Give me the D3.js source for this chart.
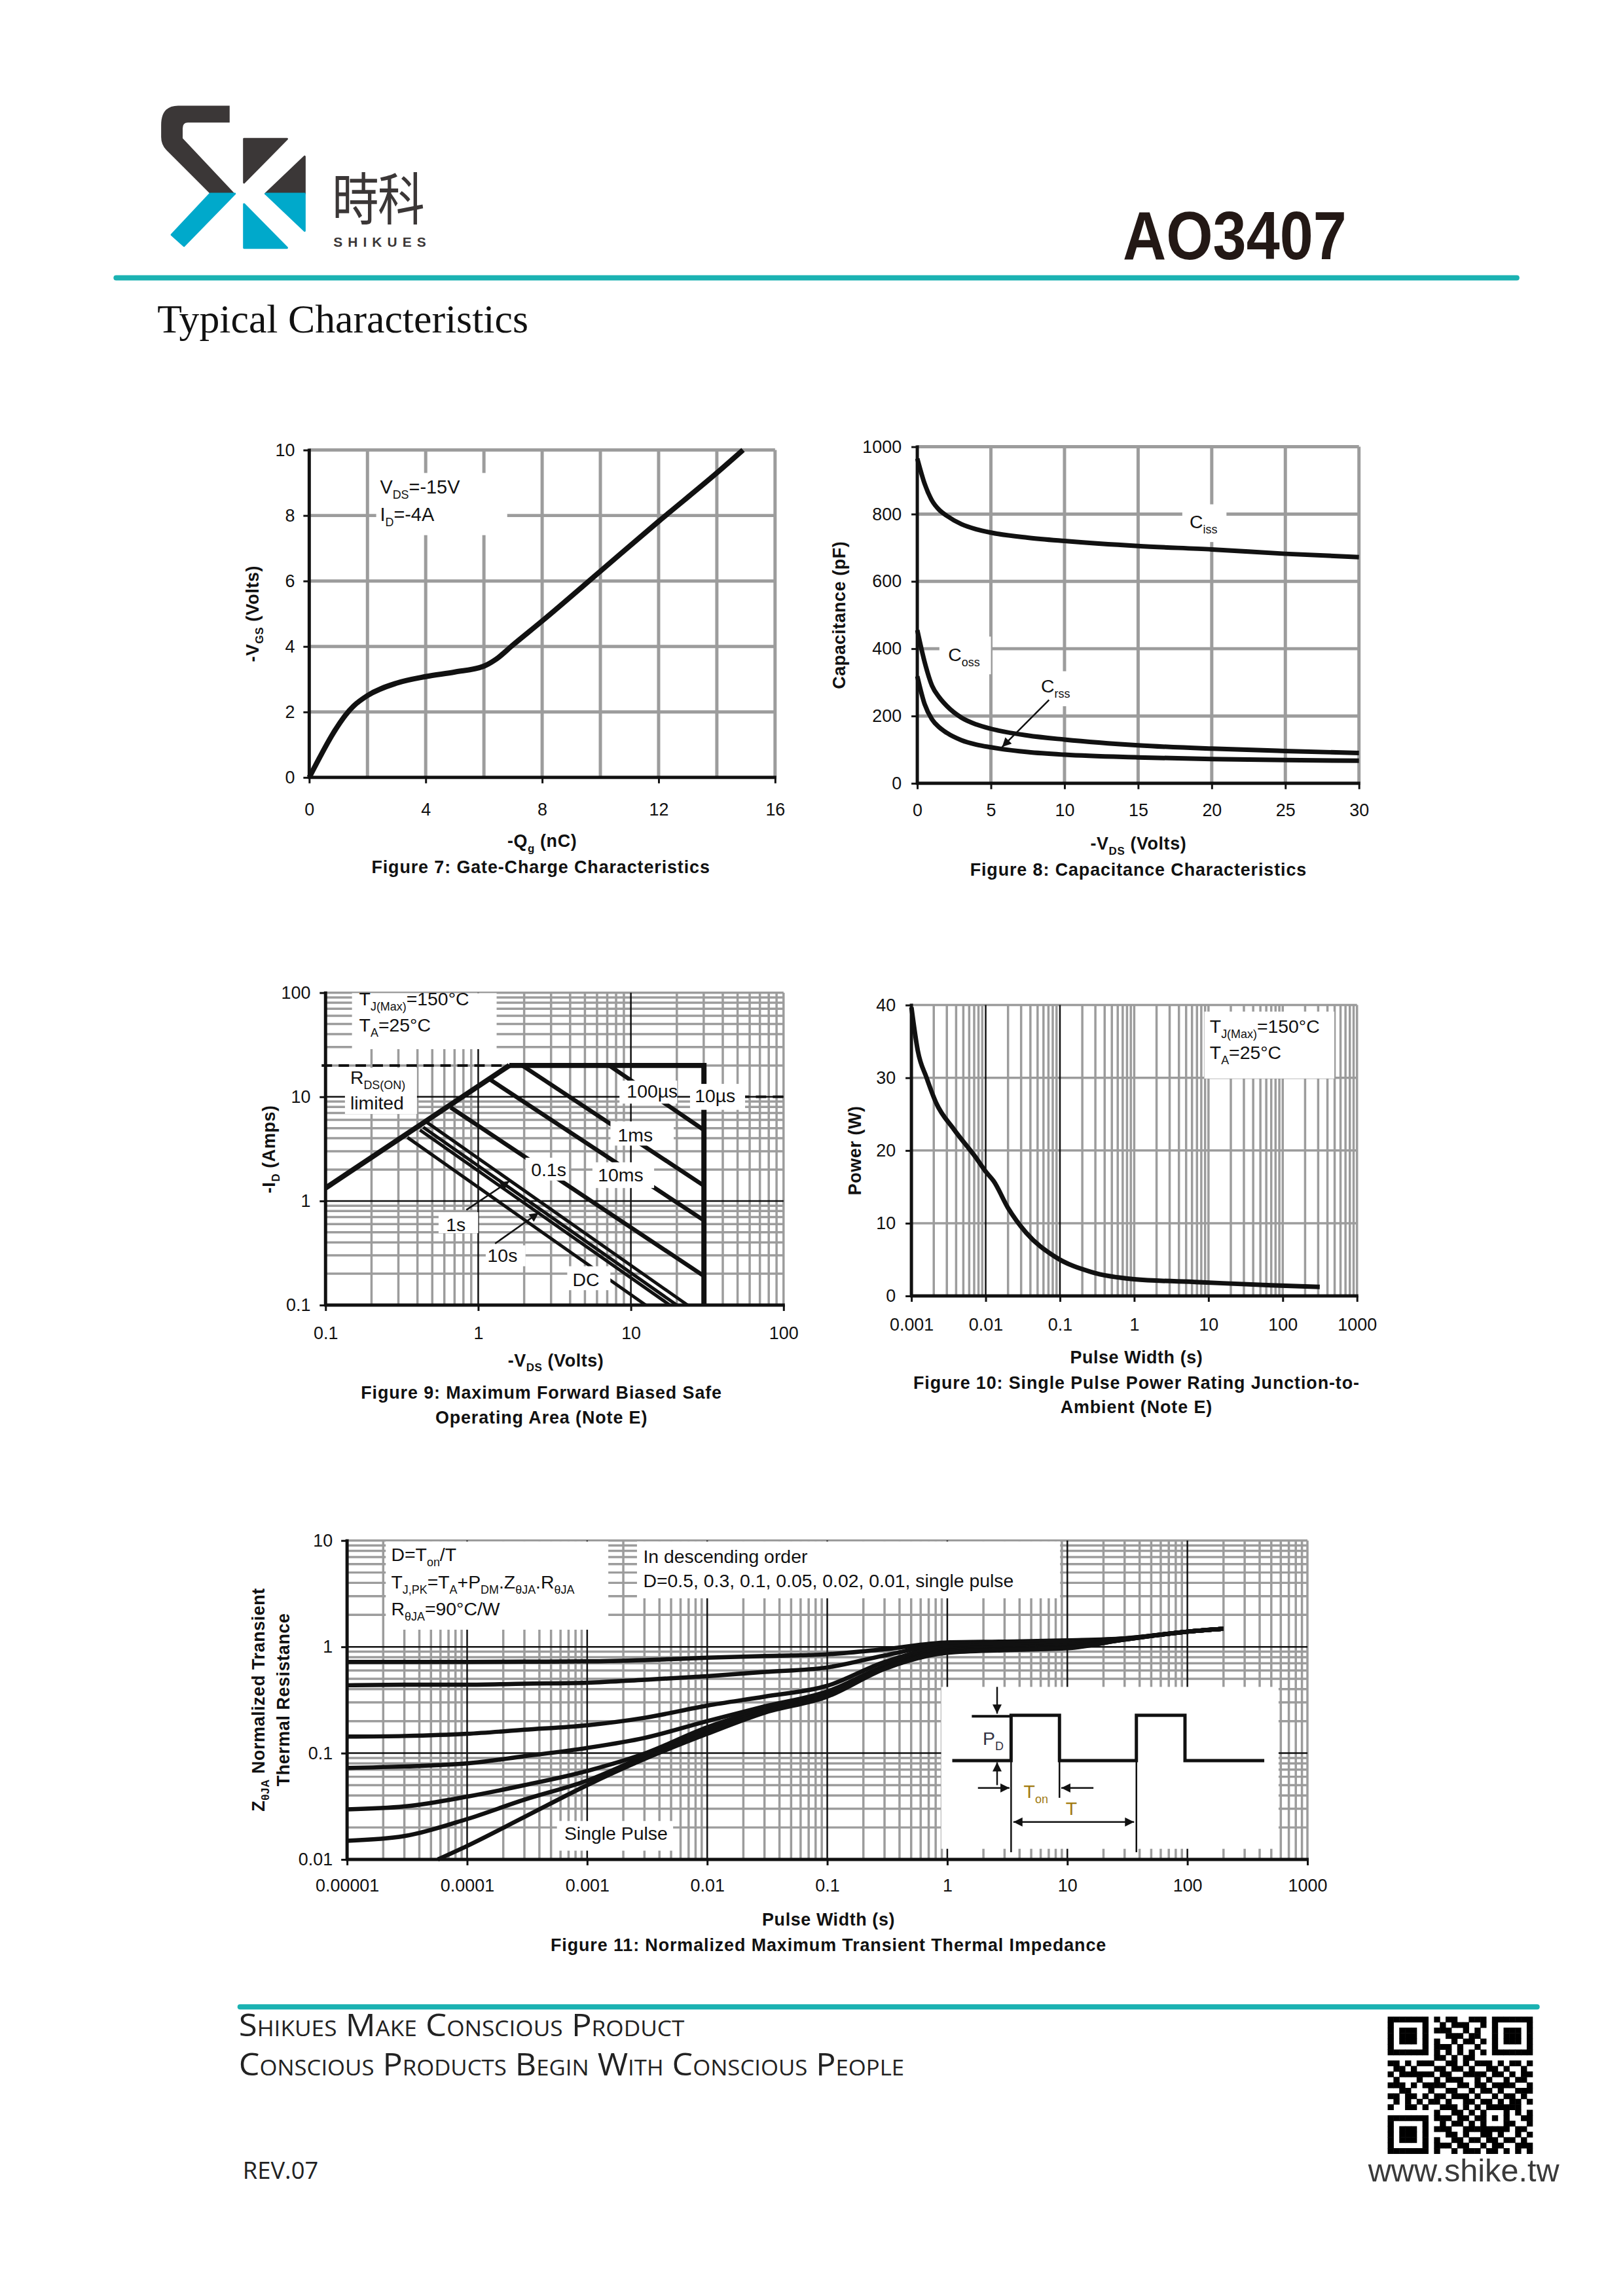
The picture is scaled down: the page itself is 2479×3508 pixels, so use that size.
<!DOCTYPE html>
<html>
<head>
<meta charset="utf-8">
<script src="https://cdn.jsdelivr.net/npm/d3@7"></script>
<style>
  body { margin: 0; background: #fff; }
</style>
</head>
<body>
<svg id="page" width="2479" height="3508"></svg>
<script>
// ---------- data ----------

// Figure 7: gate charge
const qgNC = [0, 1.52, 2.0, 3.0, 4.0, 5.0, 6.0, 6.4, 7.0, 8.0, 10.0, 12.0, 14.0, 14.9];
const vgsV = [0, 2.18, 2.5, 2.88, 3.08, 3.22, 3.4, 3.6, 4.05, 4.78, 6.3, 7.82, 9.3, 10];
const f7xTicks = [0, 4, 8, 12, 16];
const f7yTicks = [0, 2, 4, 6, 8, 10];

// Figure 8: capacitance
const capVds = [0, 0.5, 1, 1.5, 2, 3, 4, 5, 7.5, 10, 15, 20, 25, 30];
const ciss = [965, 890, 840, 812, 795, 770, 755, 745, 730, 720, 705, 695, 682, 672];
const coss = [455, 360, 290, 255, 230, 195, 175, 162, 142, 130, 113, 103, 96, 90];
const crss = [318, 235, 190, 166, 150, 128, 115, 107, 93, 85, 77, 72, 69, 67];
const f8xTicks = [0, 5, 10, 15, 20, 25, 30];
const f8yTicks = [0, 200, 400, 600, 800, 1000];

// Figure 9: safe operating area (V, A)
const rdsV = [0.1, 1.6];
const rdsI = [1.33, 20];
const envV = [1.6, 30.1, 30.1];
const envI = [20, 20, 0.1];
const soaName = ['100us', '1ms', '10ms', '0.1s', '1s', '', '10s', 'DC'];
const soaStartV = [7.2, 1.94, 1.2, 0.66, 0.46, 0.436, 0.415, 0.344];
const soaStartI = [20, 20, 14.6, 7.9, 5.7, 5.1, 4.8, 4.07];
const soaEndV = [30.1, 30.1, 30.1, 30.1, 23.5, 20, 18, 12.5];
const soaEndI = [4.8, 1.4, 0.65, 0.19, 0.1, 0.1, 0.1, 0.1];
const f9Ticks = [0.1, 1, 10, 100];
const f9TickLabels = ['0.1', '1', '10', '100'];

// Figure 10: single pulse power
const pwT = [0.001, 0.00122, 0.0016, 0.00214, 0.00374, 0.0073, 0.0102, 0.0128, 0.02, 0.035, 0.0855, 0.262, 1.0, 7.4, 70, 315];
const pwP = [39.7, 33.7, 30, 26.6, 22.9, 19.1, 17.0, 15.8, 12.1, 8.7, 5.4, 3.3, 2.3, 1.9, 1.46, 1.25];
const f10xTicks = [0.001, 0.01, 0.1, 1, 10, 100, 1000];
const f10xLabels = ['0.001', '0.01', '0.1', '1', '10', '100', '1000'];
const f10yTicks = [0, 10, 20, 30, 40];

// Figure 11: normalized transient thermal impedance
const zthT = [1e-5, 3e-5, 1e-4, 3e-4, 1e-3, 3e-3, 1e-2, 3e-2, 0.1, 0.3, 1, 3, 10, 30, 100, 200];
const zthD05 = [0.72, 0.72, 0.72, 0.725, 0.73, 0.75, 0.79, 0.82, 0.85, 0.95, 1.1, 1.12, 1.15, 1.2, 1.39, 1.48];
const zthD03 = [0.435, 0.44, 0.44, 0.45, 0.46, 0.49, 0.53, 0.58, 0.64, 0.83, 1.06, 1.09, 1.12, 1.2, 1.39, 1.48];
const zthD01 = [0.143, 0.145, 0.152, 0.166, 0.183, 0.215, 0.28, 0.34, 0.43, 0.72, 1.0, 1.04, 1.08, 1.19, 1.39, 1.48];
const zthD005 = [0.0726, 0.075, 0.08, 0.0935, 0.112, 0.139, 0.2, 0.275, 0.38, 0.66, 0.95, 0.99, 1.03, 1.18, 1.39, 1.48];
const zthD002 = [0.0296, 0.0315, 0.039, 0.05, 0.068, 0.099, 0.175, 0.26, 0.365, 0.64, 0.92, 0.96, 1.0, 1.17, 1.39, 1.48];
const zthD001 = [0.015, 0.0166, 0.024, 0.0365, 0.0552, 0.0935, 0.162, 0.25, 0.35, 0.63, 0.9, 0.94, 0.98, 1.17, 1.39, 1.48];
const zthSingleT = [5.7e-5, 1e-4, 3e-4, 1e-3, 3e-3, 1e-2, 3e-2, 0.1, 0.3, 1, 3, 10, 30, 100, 200];
const zthSingle = [0.01, 0.0134, 0.0251, 0.05, 0.088, 0.152, 0.24, 0.34, 0.62, 0.88, 0.93, 0.97, 1.17, 1.39, 1.48];
const f11xTicks = [1e-5, 1e-4, 1e-3, 1e-2, 0.1, 1, 10, 100, 1000];
const f11xLabels = ['0.00001', '0.0001', '0.001', '0.01', '0.1', '1', '10', '100', '1000'];
const f11yTicks = [0.01, 0.1, 1, 10];
const f11yLabels = ['0.01', '0.1', '1', '10'];

// ---------- page ----------
const SANS = '"Liberation Sans", Arial, Helvetica, sans-serif';
const INK = '#111';
const GRID = '#9c9c9c';
const TEAL = '#1bb2b2';
const NOTE = 28.5;

const root = d3.select('#page');
root.append('rect').attr('width', 2479).attr('height', 3508).attr('fill', '#fff');

const defs = root.append('defs');
defs.append('marker').attr('id', 'arr')
  .attr('viewBox', '0 0 10 10').attr('refX', 10).attr('refY', 5)
  .attr('markerWidth', 18).attr('markerHeight', 14)
  .attr('markerUnits', 'userSpaceOnUse').attr('orient', 'auto-start-reverse')
  .append('path').attr('d', 'M0,0L10,5L0,10z').attr('fill', INK);

// the whole sheet sits a hair smaller than the page
const svg = root.append('g').attr('transform', 'scale(0.9965)');

// text with _{sub} parts
function rich(t, str, fs) {
  const sub = Math.round(fs * 0.62), shift = fs * 0.28;
  let low = false;
  str.split(/(_\{[^}]*\})/).filter(s => s).forEach(p => {
    if (p.startsWith('_{')) {
      t.append('tspan').attr('font-size', sub).attr('dy', low ? 0 : shift).text(p.slice(2, -1));
      low = true;
    } else {
      t.append('tspan').attr('dy', low ? -shift : 0).text(p);
      low = false;
    }
  });
  return t;
}
function label(g, x, y, str, o = {}) {
  const fs = o.size || NOTE;
  const t = g.append('text').attr('x', x).attr('y', y)
    .attr('font-size', fs).attr('font-family', o.font || SANS)
    .attr('fill', o.fill || INK).attr('font-weight', o.weight || 'normal')
    .attr('text-anchor', o.anchor || 'start');
  if (o.spacing) t.attr('letter-spacing', o.spacing);
  if (o.rotate) t.attr('transform', `rotate(-90,${x},${y})`);
  return rich(t, str, fs);
}
const title = (g, x, y, s, rot) => label(g, x, y, s, { size: 27, weight: 'bold', anchor: 'middle', rotate: rot, spacing: 0.6 });
const caption = (g, x, y, s) => label(g, x, y, s, { size: 27, weight: 'bold', anchor: 'middle', spacing: 0.9 });

function logMinors(domain) {
  const out = [];
  const e0 = Math.round(Math.log10(domain[0])), e1 = Math.round(Math.log10(domain[1]));
  for (let e = e0; e < e1; e++) for (let m = 2; m <= 9; m++) out.push(m * Math.pow(10, e));
  return out;
}

function grid(g, x, y, xs, ys, color, w) {
  const [xa, xb] = x.range(), [yb, ya] = y.range();
  g.append('g').selectAll('line').data(xs).join('line')
    .attr('x1', d => x(d)).attr('x2', d => x(d)).attr('y1', ya).attr('y2', yb)
    .attr('stroke', color).attr('stroke-width', w);
  g.append('g').selectAll('line').data(ys).join('line')
    .attr('y1', d => y(d)).attr('y2', d => y(d)).attr('x1', xa).attr('x2', xb)
    .attr('stroke', color).attr('stroke-width', w);
}

function axes(g, x, y, xt, xl, yt, yl, padX, padY) {
  const [xa] = x.range(), [yb] = y.range();
  const ax = g.append('g').attr('transform', `translate(0,${yb})`)
    .call(d3.axisBottom(x).tickValues(xt).tickFormat((d, i) => xl[i]).tickSize(9).tickPadding(padX));
  const ay = g.append('g').attr('transform', `translate(${xa},0)`)
    .call(d3.axisLeft(y).tickValues(yt).tickFormat((d, i) => yl[i]).tickSize(9).tickPadding(padY));
  [ax, ay].forEach(a => {
    a.select('.domain').remove();
    a.selectAll('.tick line').attr('stroke', INK).attr('stroke-width', 3);
    a.selectAll('.tick text').attr('font-size', 27).attr('fill', INK).attr('font-family', SANS);
  });
  g.append('line').attr('x1', xa).attr('x2', xa).attr('y1', y.range()[1] - 2).attr('y2', yb + 2)
    .attr('stroke', INK).attr('stroke-width', 5);
  g.append('line').attr('x1', xa - 2).attr('x2', x.range()[1] + 2).attr('y1', yb).attr('y2', yb)
    .attr('stroke', INK).attr('stroke-width', 5);
}

function box(g, x, y, x0, x1, y0, y1) {
  g.append('rect').attr('x', x(x0)).attr('y', y(y1))
    .attr('width', x(x1) - x(x0)).attr('height', y(y0) - y(y1)).attr('fill', '#fff');
}

// ---------- header ----------
const logoDark = '#3b3737', logoBlue = '#00a9cb';
const head = svg.append('g');
head.append('path').attr('fill', logoDark)
  .attr('d', 'M273,162 L352,162 L352,188 L288,188 Q280,188 280,197 L280,212 L360,297 L322,297 L255,230 Q247,222 247,210 L247,192 Q247,162 273,162 Z');
const logoTris = [
  { c: logoBlue, p: [[322, 297], [360, 297], [282, 377], [263, 360]] },
  { c: logoDark, p: [[374, 213], [440, 213], [374, 280]] },
  { c: logoDark, p: [[467, 240], [467, 297], [407, 297]] },
  { c: logoBlue, p: [[407, 297], [467, 297], [467, 354]] },
  { c: logoBlue, p: [[374, 313], [440, 380], [374, 380]] }
];
head.selectAll('path.tri').data(logoTris).join('path').attr('class', 'tri')
  .attr('d', d => d3.line()(d.p) + 'Z').attr('fill', d => d.c)
  .attr('stroke', d => d.c).attr('stroke-width', 3).attr('stroke-linejoin', 'round');
head.append('text').attr('transform', 'translate(509,337) scale(1,1.2)')
  .attr('font-family', '"Noto Sans CJK TC", "Noto Sans CJK SC", sans-serif')
  .attr('font-size', 72).attr('fill', logoDark).attr('letter-spacing', -2).text('時科');
head.append('text').attr('x', 511).attr('y', 378).attr('font-family', SANS)
  .attr('font-weight', 'bold').attr('font-size', 21).attr('fill', logoDark)
  .attr('textLength', 142).attr('lengthAdjust', 'spacing').text('SHIKUES');
head.append('text').attr('x', 1721).attr('y', 397).attr('font-family', SANS)
  .attr('font-weight', 'bold').attr('font-size', 105).attr('fill', '#231815')
  .attr('textLength', 343).attr('lengthAdjust', 'spacingAndGlyphs').text('AO3407');
head.append('line').attr('x1', 178).attr('x2', 2325).attr('y1', 426).attr('y2', 426)
  .attr('stroke', TEAL).attr('stroke-width', 8).attr('stroke-linecap', 'round');
head.append('text').attr('x', 241).attr('y', 510)
  .attr('font-family', '"Liberation Serif", "Times New Roman", serif')
  .attr('font-size', 62).attr('fill', INK).text('Typical Characteristics');

const line = d3.line().curve(d3.curveMonotoneX);

// ---------- Figure 7 ----------
{
  const x = d3.scaleLinear().domain([0, 16]).range([474, 1188]);
  const y = d3.scaleLinear().domain([0, 10]).range([1192, 690]);
  const g = svg.append('g');
  grid(g, x, y, d3.range(2, 17, 2), d3.range(2, 11, 2), GRID, 5);
  box(g, x, y, 2.3, 6.8, 7.4, 9.3);
  g.append('path').attr('d', line(qgNC.map((q, i) => [x(q), y(vgsV[i])])))
    .attr('fill', 'none').attr('stroke', INK).attr('stroke-width', 8);
  axes(g, x, y, f7xTicks, f7xTicks.map(String), f7yTicks, f7yTicks.map(String), 30, 13);
  label(g, x(2.43), y(8.67), 'V_{DS}=-15V', { size: 29 });
  label(g, x(2.43), y(7.84), 'I_{D}=-4A', { size: 29 });
  title(g, 831, 1299, '-Q_{g} (nC)');
  title(g, 396, 941, '-V_{GS} (Volts)', true);
  caption(g, 829, 1339, 'Figure 7: Gate-Charge Characteristics');
}

// ---------- Figure 8 ----------
{
  const x = d3.scaleLinear().domain([0, 30]).range([1406, 2083]);
  const y = d3.scaleLinear().domain([0, 1000]).range([1201, 685]);
  const g = svg.append('g');
  grid(g, x, y, d3.range(5, 31, 5), d3.range(200, 1001, 200), GRID, 5);
  [ciss, coss, crss].forEach(s => {
    g.append('path').attr('d', line(capVds.map((v, i) => [x(v), y(s[i])])))
      .attr('fill', 'none').attr('stroke', INK).attr('stroke-width', 7);
  });
  box(g, x, y, 18.0, 21.0, 717, 829);
  box(g, x, y, 1.5, 5.0, 324, 436);
  box(g, x, y, 7.9, 10.2, 229, 333);
  g.append('line').attr('x1', x(8.95)).attr('y1', y(248)).attr('x2', x(5.76)).attr('y2', y(108))
    .attr('stroke', INK).attr('stroke-width', 2.5).attr('marker-end', 'url(#arr)');
  axes(g, x, y, f8xTicks, f8xTicks.map(String), f8yTicks, f8yTicks.map(String), 22, 15);
  label(g, x(18.5), y(758), 'C_{iss}');
  label(g, x(2.1), y(363), 'C_{oss}');
  label(g, x(8.4), y(269), 'C_{rss}');
  title(g, 1745, 1303, '-V_{DS} (Volts)');
  title(g, 1296, 943, 'Capacitance (pF)', true);
  caption(g, 1745, 1343, 'Figure 8: Capacitance Characteristics');
}

// ---------- Figure 9 ----------
{
  const x = d3.scaleLog().domain([0.1, 100]).range([499, 1201]);
  const y = d3.scaleLog().domain([0.1, 100]).range([2001, 1522]);
  const g = svg.append('g');
  grid(g, x, y, logMinors([0.1, 100]).concat([100]), logMinors([0.1, 100]).concat([100]), GRID, 3.5);
  grid(g, x, y, [1, 10], [1, 10], INK, 2.5);
  const pts = (vs, is) => vs.map((v, i) => [x(v), y(is[i])]);
  g.append('path').attr('d', d3.line()(pts(rdsV, rdsI))).attr('fill', 'none')
    .attr('stroke', INK).attr('stroke-width', 8);
  g.append('path').attr('d', d3.line()(pts(envV, envI))).attr('fill', 'none')
    .attr('stroke', INK).attr('stroke-width', 8).attr('stroke-linejoin', 'miter');
  soaName.forEach((n, i) => {
    g.append('line').attr('x1', x(soaStartV[i])).attr('y1', y(soaStartI[i]))
      .attr('x2', x(soaEndV[i])).attr('y2', y(soaEndI[i]))
      .attr('stroke', INK).attr('stroke-width', i >= 4 ? 5 : 6.5);
  });
  g.append('line').attr('x1', x(0.1) - 6).attr('x2', x(1.6)).attr('y1', y(20)).attr('y2', y(20))
    .attr('stroke', INK).attr('stroke-width', 4).attr('stroke-dasharray', '16,10');
  g.append('line').attr('x1', x(51)).attr('x2', x(100)).attr('y1', y(10)).attr('y2', y(10))
    .attr('stroke', INK).attr('stroke-width', 4).attr('stroke-dasharray', '16,10');
  const notes = [
    { b: [0.149, 1.32, 28.7, 99] },
    { b: [0.134, 0.397, 6.84, 19.0] },
    { b: [8.42, 20.1, 8.6, 14.3], t: '100µs', v: 9.4, i: 9.87 },
    { b: [24.4, 56.0, 7.5, 13.3], t: '10µs', v: 26.2, i: 8.93 },
    { b: [7.35, 19.1, 3.4, 5.8], t: '1ms', v: 8.2, i: 3.75 },
    { b: [2.04, 3.93, 1.57, 2.6], t: '0.1s', v: 2.22, i: 1.74 },
    { b: [5.6, 14.2, 1.33, 2.35], t: '10ms', v: 6.08, i: 1.54 },
    { b: [0.55, 1.0, 0.49, 0.78], t: '1s', v: 0.615, i: 0.516 },
    { b: [1.12, 2.04, 0.236, 0.375], t: '10s', v: 1.15, i: 0.26 },
    { b: [3.83, 7.34, 0.139, 0.236], t: 'DC', v: 4.15, i: 0.152 }
  ];
  notes.forEach(n => box(g, x, y, n.b[0], n.b[1], n.b[2], n.b[3]));
  g.append('line').attr('x1', x(0.836)).attr('y1', y(0.82)).attr('x2', x(1.6)).attr('y2', y(1.55))
    .attr('stroke', INK).attr('stroke-width', 2.5).attr('marker-end', 'url(#arr)');
  g.append('line').attr('x1', x(1.29)).attr('y1', y(0.39)).attr('x2', x(2.49)).attr('y2', y(0.77))
    .attr('stroke', INK).attr('stroke-width', 2.5).attr('marker-end', 'url(#arr)');
  axes(g, x, y, f9Ticks, f9TickLabels, f9Ticks, f9TickLabels, 24, 14);
  notes.filter(n => n.t).forEach(n => label(g, x(n.v), y(n.i), n.t));
  label(g, x(0.166), y(75.5), 'T_{J(Max)}=150°C');
  label(g, x(0.166), y(42.3), 'T_{A}=25°C');
  label(g, x(0.145), y(13.3), 'R_{DS(ON)}');
  label(g, x(0.145), y(7.55), 'limited');
  title(g, 852, 2095, '-V_{DS} (Volts)');
  title(g, 421, 1762, '-I_{D} (Amps)', true);
  caption(g, 830, 2145, 'Figure 9: Maximum Forward Biased Safe');
  caption(g, 830, 2183, 'Operating Area (Note E)');
}

// ---------- Figure 10 ----------
{
  const x = d3.scaleLog().domain([0.001, 1000]).range([1397, 2080]);
  const y = d3.scaleLinear().domain([0, 40]).range([1987, 1541]);
  const g = svg.append('g');
  grid(g, x, y, logMinors([0.001, 1000]).concat([1, 10, 100, 1000]), [10, 20, 30, 40], GRID, 3.5);
  grid(g, x, y, [0.01, 0.1], [], INK, 2.5);
  box(g, x, y, 8.8, 494, 29.9, 39.1);
  g.append('path').attr('d', line(pwT.map((t, i) => [x(t), y(pwP[i])])))
    .attr('fill', 'none').attr('stroke', INK).attr('stroke-width', 7);
  axes(g, x, y, f10xTicks, f10xLabels, f10yTicks, f10yTicks.map(String), 25, 15);
  label(g, x(10.4), y(36.2), 'T_{J(Max)}=150°C');
  label(g, x(10.4), y(32.6), 'T_{A}=25°C');
  title(g, 1742, 2090, 'Pulse Width (s)');
  title(g, 1320, 1764, 'Power (W)', true);
  caption(g, 1742, 2129, 'Figure 10: Single Pulse Power Rating Junction-to-');
  caption(g, 1742, 2167, 'Ambient (Note E)');
}

// ---------- Figure 11 ----------
{
  const x = d3.scaleLog().domain([1e-5, 1000]).range([532, 2004]);
  const y = d3.scaleLog().domain([0.01, 10]).range([2851, 2362]);
  const g = svg.append('g');
  grid(g, x, y, logMinors([1e-5, 1000]).concat([1000]), logMinors([0.01, 10]).concat([10]), GRID, 3.5);
  grid(g, x, y, [1e-4, 1e-3, 1e-2, 0.1, 1, 10, 100], [0.1, 1], INK, 2.5);
  box(g, x, y, 2.1e-5, 1.5e-3, 1.45, 9.8);
  box(g, x, y, 2.6e-3, 8.7, 2.86, 9.8);
  box(g, x, y, 5.6e-4, 5.2e-3, 0.0121, 0.023);
  box(g, x, y, 0.89, 575, 0.0126, 0.42);
  [zthD05, zthD03, zthD01, zthD005, zthD002, zthD001].forEach(s => {
    g.append('path').attr('d', line(zthT.map((t, i) => [x(t), y(s[i])])))
      .attr('fill', 'none').attr('stroke', INK).attr('stroke-width', 6.5);
  });
  g.append('path').attr('d', line(zthSingleT.map((t, i) => [x(t), y(zthSingle[i])])))
    .attr('fill', 'none').attr('stroke', INK).attr('stroke-width', 6.5);

  // pulse sketch in the inset
  const waveT = [1.1, 3.4, 3.4, 8.6, 8.6, 37.6, 37.6, 95.5, 95.5, 437];
  const waveZ = [0.085, 0.085, 0.227, 0.227, 0.085, 0.085, 0.227, 0.227, 0.085, 0.085];
  g.append('path').attr('d', d3.line()(waveT.map((t, i) => [x(t), y(waveZ[i])])))
    .attr('fill', 'none').attr('stroke', INK).attr('stroke-width', 5);
  const thin = (t0, z0, t1, z1) => g.append('line').attr('x1', x(t0)).attr('y1', y(z0))
    .attr('x2', x(t1)).attr('y2', y(z1)).attr('stroke', INK).attr('stroke-width', 2.5);
  thin(1.6, 0.222, 3.4, 0.222).attr('stroke-width', 4);
  thin(3.4, 0.085, 3.4, 0.0117);
  thin(8.6, 0.085, 8.6, 0.038);
  thin(37.6, 0.085, 37.6, 0.0117);
  thin(2.6, 0.42, 2.6, 0.235).attr('marker-end', 'url(#arr)');
  thin(2.6, 0.05, 2.6, 0.082).attr('marker-end', 'url(#arr)');
  thin(1.8, 0.047, 3.3, 0.047).attr('marker-end', 'url(#arr)');
  thin(16.5, 0.047, 8.9, 0.047).attr('marker-end', 'url(#arr)');
  thin(3.55, 0.0225, 36, 0.0225).attr('marker-start', 'url(#arr)').attr('marker-end', 'url(#arr)');

  axes(g, x, y, f11xTicks, f11xLabels, f11yTicks, f11yLabels, 21, 13);
  label(g, x(2.33e-5), y(6.4), 'D=T_{on}/T');
  label(g, x(2.33e-5), y(3.55), 'T_{J,PK}=T_{A}+P_{DM}.Z_{θJA}.R_{θJA}');
  label(g, x(2.33e-5), y(1.97), 'R_{θJA}=90°C/W');
  label(g, x(2.93e-3), y(6.17), 'In descending order');
  label(g, x(2.93e-3), y(3.65), 'D=0.5, 0.3, 0.1, 0.05, 0.02, 0.01, single pulse');
  label(g, x(6.45e-4), y(0.0153), 'Single Pulse');
  label(g, x(2.41), y(0.119), 'P_{D}', { anchor: 'middle', fill: '#334' });
  label(g, x(4.33), y(0.038), 'T_{on}', { fill: '#a07a10' });
  label(g, x(9.7), y(0.0263), 'T', { fill: '#a07a10' });
  title(g, 1270, 2952, 'Pulse Width (s)');
  title(g, 405, 2606, 'Z_{θJA} Normalized Transient', true);
  title(g, 444, 2606, 'Thermal Resistance', true);
  caption(g, 1270, 2991, 'Figure 11: Normalized Maximum Transient Thermal Impedance');
}

// ---------- footer ----------
const foot = svg.append('g');
foot.append('line').attr('x1', 368).attr('x2', 2356).attr('y1', 3077).attr('y2', 3077)
  .attr('stroke', TEAL).attr('stroke-width', 8).attr('stroke-linecap', 'round');
foot.append('text').attr('x', 366).attr('y', 3122)
  .attr('font-family', '"Open Sans", "DejaVu Sans", sans-serif').attr('font-size', 48)
  .attr('font-variant', 'small-caps').attr('fill', '#222')
  .attr('textLength', 683).attr('lengthAdjust', 'spacingAndGlyphs').text('Shikues Make Conscious Product');
foot.append('text').attr('x', 366).attr('y', 3182)
  .attr('font-family', '"Open Sans", "DejaVu Sans", sans-serif').attr('font-size', 48)
  .attr('font-variant', 'small-caps').attr('fill', '#222')
  .attr('textLength', 1020).attr('lengthAdjust', 'spacingAndGlyphs').text('Conscious Products Begin With Conscious People');
foot.append('text').attr('x', 372).attr('y', 3341)
  .attr('font-family', '"Open Sans", sans-serif').attr('font-size', 36).attr('fill', '#222')
  .attr('textLength', 116).attr('lengthAdjust', 'spacingAndGlyphs').text('REV.07');
foot.append('text').attr('x', 2097).attr('y', 3345)
  .attr('font-family', SANS).attr('font-size', 48).attr('fill', '#3a3a3a')
  .attr('textLength', 293).attr('lengthAdjust', 'spacingAndGlyphs').text('www.shike.tw');

// QR code block
const finder = ['1111111', '1000001', '1011101', '1011101', '1011101', '1000001', '1111111'];
const qrMid = ['101100111', '010111001', '111001010', '001110110', '100101101', '111010010', '101010101', '110101100'];
const qrBody = [
  '1101011100110101110101101', '0110100011011010011010010', '1011111101100111101101011',
  '0100010010111001010010110', '1110101111001101101111001', '0011000100110010110100111',
  '1101101011011101001011010', '0101010110100110110101101', '1001101001110101011111100'];
const qrLow = ['10011010100010101', '11101101101010011', '01011010100011001', '11100111111110110',
  '00110100110100101', '10011011011011010', '11101100101100111', '10010111011010101'];
const qr = [];
for (let r = 0; r < 8; r++) { const f = r < 7 ? finder[r] : '0000000'; qr.push(f + '0' + qrMid[r] + '0' + f); }
qrBody.forEach(s => qr.push(s));
for (let r = 0; r < 8; r++) { const f = r === 0 ? '0000000' : finder[r - 1]; qr.push(f + '0' + qrLow[r]); }
const qx = d3.scaleBand().domain(d3.range(25)).range([2127, 2349]);
const qy = d3.scaleBand().domain(d3.range(25)).range([3092, 3302]);
const cells = [];
qr.forEach((row, r) => row.split('').forEach((c, k) => { if (c === '1') cells.push([r, k]); }));
foot.append('g').selectAll('rect').data(cells).join('rect')
  .attr('x', d => qx(d[1])).attr('y', d => qy(d[0]))
  .attr('width', qx.bandwidth() + 0.5).attr('height', qy.bandwidth() + 0.5).attr('fill', '#000');
</script>
</body>
</html>
